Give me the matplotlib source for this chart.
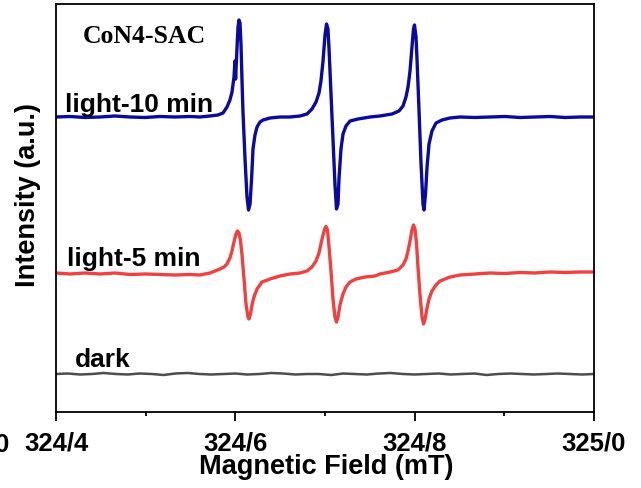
import matplotlib
matplotlib.use("Agg")
import matplotlib.pyplot as plt

# ---- data (magnetic field in mT, intensity in a.u.) ----
blue_x = [324.400, 324.4156, 324.4323, 324.4491, 324.4658, 324.4825, 324.4993, 324.5160, 324.5327, 324.5494,
          324.5606, 324.5717, 324.5807, 324.5862, 324.5907, 324.5940, 324.5963, 324.5985, 324.5996, 324.6003,
          324.6019, 324.6030, 324.6041, 324.6052, 324.6063, 324.6074, 324.6085, 324.6108, 324.6130, 324.6147,
          324.6164, 324.6181, 324.6197, 324.6219, 324.6242, 324.6275, 324.6309, 324.6387, 324.6498,
          324.6610, 324.6721, 324.6799, 324.6855, 324.6900, 324.6933, 324.6955, 324.6978, 324.7000, 324.7017,
          324.7033, 324.7045, 324.7067, 324.7089, 324.7111, 324.7128, 324.7145, 324.7156, 324.7178, 324.7201,
          324.7234, 324.7279, 324.7368, 324.7502,
          324.7613, 324.7747, 324.7825, 324.7870, 324.7903, 324.7926, 324.7948, 324.7970, 324.7987, 324.7998,
          324.8015, 324.8026, 324.8048, 324.8071, 324.8093, 324.8104, 324.8121, 324.8138, 324.8160, 324.8193,
          324.8238, 324.8305, 324.8394, 324.8506,
          324.8673, 324.8840, 324.9007, 324.9175, 324.9342, 324.9509, 324.9677, 324.9844, 325.000]
blue_y = [295, 295.5, 294.5, 295, 296, 295, 294.5, 295.5, 295, 295.5,
          295, 296, 297, 299, 305, 312, 320, 335, 351, 333,
          365, 385, 392, 389, 368, 333, 301, 253, 215, 202,
          208, 233, 263, 277, 285, 290, 292, 294, 295,
          295, 296, 298, 303, 310, 319, 331, 351, 377, 388,
          383, 363, 318, 273, 228, 203, 208, 233, 263, 278,
          286, 291, 293, 295,
          296, 298, 301, 306, 315, 325, 341, 365, 383, 387,
          375, 353, 303, 248, 208, 202, 218, 245, 268, 281,
          289, 292, 294, 295,
          294.5, 295, 295.5, 294.5, 295, 295.5, 294.5, 295, 295]

red_x = [324.400, 324.4156, 324.4323, 324.4491, 324.4658, 324.4825, 324.4993, 324.5160, 324.5327, 324.5494,
         324.5606, 324.5661, 324.5717, 324.5773, 324.5829, 324.5873, 324.5907, 324.5940, 324.5963, 324.5985,
         324.6007, 324.6024, 324.6041, 324.6058, 324.6074, 324.6097, 324.6119, 324.6141, 324.6152, 324.6169,
         324.6186, 324.6208, 324.6242, 324.6297, 324.6387, 324.6498,
         324.6610, 324.6721, 324.6799, 324.6855, 324.6900, 324.6933, 324.6955, 324.6978, 324.7000, 324.7011,
         324.7028, 324.7045, 324.7067, 324.7089, 324.7111, 324.7128, 324.7145, 324.7167, 324.7201, 324.7234,
         324.7279, 324.7346, 324.7446, 324.7558,
         324.7613, 324.7725, 324.7814, 324.7870, 324.7903, 324.7926, 324.7948, 324.7970, 324.7987, 324.8004,
         324.8021, 324.8037, 324.8059, 324.8082, 324.8099, 324.8116, 324.8138, 324.8160, 324.8193, 324.8238,
         324.8283, 324.8394, 324.8506,
         324.8673, 324.8840, 324.9007, 324.9175, 324.9342, 324.9509, 324.9677, 324.9844, 325.000]
red_y = [139, 138, 139, 138, 139, 137.5, 138, 137.5, 137, 137.5,
         137, 138, 139, 141, 143, 145, 148, 154, 161, 170,
         178, 181, 179, 171, 158, 133, 108, 95, 93, 98,
         107, 115, 123, 130, 133, 136,
         138, 139, 141, 145, 151, 159, 168, 177, 184, 185.5,
         182, 165, 141, 113, 95, 90, 95, 107, 118, 125,
         130, 133, 135, 136,
         138, 140, 142, 147, 153, 161, 171, 182, 187, 183,
         168, 145, 118, 95, 88, 93, 104, 113, 121, 127,
         131, 135, 137,
         138, 139, 138.5, 139.5, 139, 140, 139.5, 140, 140]

dark_x = [324.400, 324.413, 324.427, 324.440, 324.453, 324.467, 324.480, 324.493, 324.507, 324.520,
          324.533, 324.547, 324.560, 324.573, 324.587, 324.600, 324.613, 324.627, 324.640, 324.653,
          324.667, 324.680, 324.693, 324.707, 324.720, 324.733, 324.747, 324.760, 324.773, 324.787,
          324.800, 324.813, 324.827, 324.840, 324.853, 324.867, 324.880, 324.893, 324.907, 324.920,
          324.933, 324.947, 324.960, 324.973, 324.987, 325.000]
dark_y = [38, 38.5, 37.5, 38, 39, 38, 37.5, 38.5, 38, 37, 38.5, 39, 38, 37.5, 38, 38.5, 37.5, 38, 39, 38.5,
          37.5, 38, 38, 37, 38.5, 38, 37.5, 38.5, 39, 38, 37.5, 38, 38.5, 37.5, 38, 38.5, 37, 38, 38.5, 38,
          37.5, 38, 38.5, 38, 37.5, 38]

major_ticks = [324.4, 324.6, 324.8, 325.0]
major_labels = ["324/4", "324/6", "324/8", "325/0"]
minor_ticks = [324.5, 324.7, 324.9]

# ---- figure ----
fig = plt.figure(figsize=(6.41, 4.89), dpi=100)
ax = fig.add_axes([56/641, 1 - 413/489, (594-56)/641, (413-5)/489])

ax.plot(blue_x, blue_y, color="#0a0a9e", lw=2.4, solid_joinstyle="round")
ax.plot(red_x, red_y, color="#f0403f", lw=2.4, solid_joinstyle="round")
ax.plot(dark_x, dark_y, color="#4d4d4d", lw=1.8)

ax.set_xlim(324.4, 325.0)
ax.set_ylim(0, 408)
ax.set_yticks([])
ax.set_xticks(major_ticks)
ax.set_xticklabels(major_labels)
ax.set_xticks(minor_ticks, minor=True)
ax.tick_params(axis="x", which="major", direction="out", length=6.5, width=1.3, pad=7,
               labelsize=18.5)
ax.tick_params(axis="x", which="minor", direction="out", length=3, width=1.3)
sans = "Liberation Sans"
for lab in ax.get_xticklabels():
    lab.set_fontweight("bold")
    lab.set_fontfamily(sans)
for sp in ax.spines.values():
    sp.set_linewidth(1.3)

def px(xp, yp):
    return (xp/641, 1 - yp/489)

fig.text(*px(326, 467), "Magnetic Field (mT)", fontsize=19.5, fontweight="bold", family=sans,
         ha="center", va="center")
fig.text(*px(28, 195), "Intensity (a.u.)", fontsize=19.5, fontweight="bold", family=sans,
         ha="center", va="center", rotation=90)

fig.text(*px(65, 112), "light-10 min", fontsize=19, fontweight="bold", family=sans,
         ha="left", va="baseline")
fig.text(*px(67, 266), "light-5 min", fontsize=19, fontweight="bold", family=sans,
         ha="left", va="baseline")
fig.text(*px(75, 367), "dark", fontsize=19, fontweight="bold", family=sans,
         ha="left", va="baseline")
fig.text(*px(83, 43), "CoN4-SAC", fontsize=18.5, fontweight="bold", family="Liberation Serif",
         ha="left", va="baseline")
fig.text(*px(9, 452), "0", fontsize=18.5, fontweight="bold", family=sans,
         ha="right", va="baseline")

fig.savefig("out.png", dpi=100)
